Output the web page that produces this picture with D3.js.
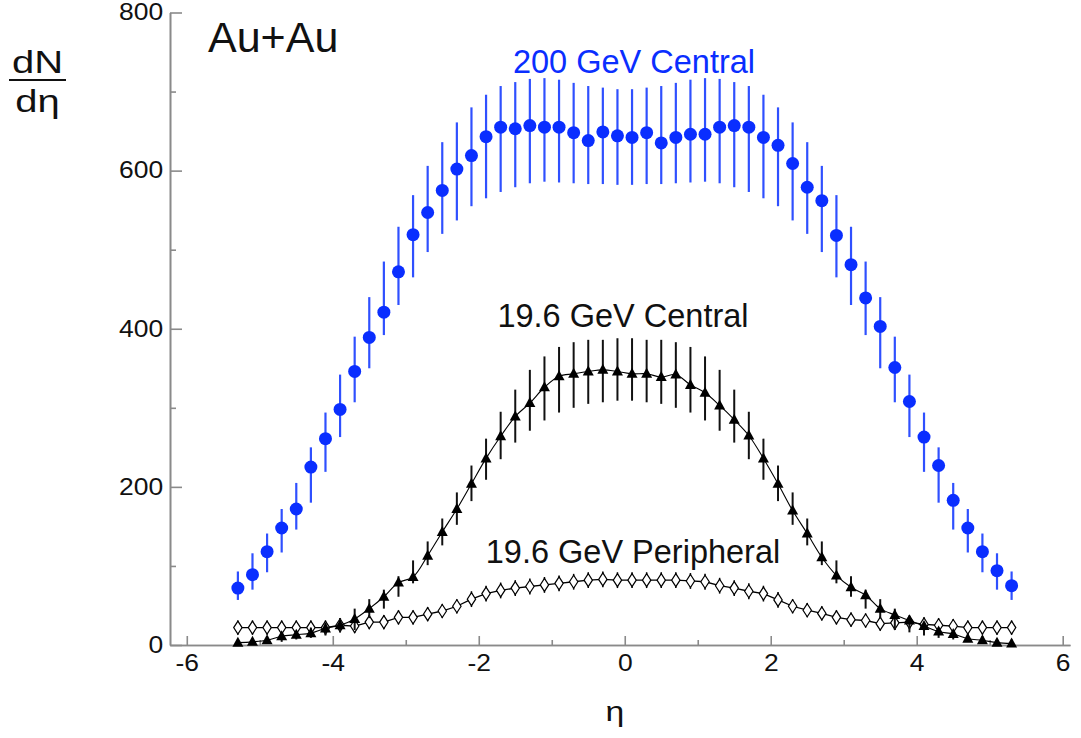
<!DOCTYPE html>
<html lang="en">
<head>
  <meta charset="UTF-8">
  <title>dN/deta Au+Au</title>
  <style>
    body { margin: 0; background: #fff; }
    svg { display: block; font-family: "Liberation Sans", Arial, sans-serif; }
    .axis path, .axis line { stroke: #8a8a8a; stroke-width: 1.6; }
    .axis text { fill: #111; font-size: 23px; font-family: "Liberation Sans", Arial, sans-serif; }
  </style>
</head>
<body>
  <div id="chart"></div>

  <script src="https://d3js.org/d3.v7.min.js"></script>
  <script>
    // pseudorapidity bin centres
    const eta = [-5.3, -5.1, -4.9, -4.7, -4.5, -4.3, -4.1, -3.9, -3.7, -3.5, -3.3, -3.1, -2.9, -2.7,
      -2.5, -2.3, -2.1, -1.9, -1.7, -1.5, -1.3, -1.1, -0.9, -0.7, -0.5, -0.3, -0.1,
      0.1, 0.3, 0.5, 0.7, 0.9, 1.1, 1.3, 1.5, 1.7, 1.9, 2.1, 2.3, 2.5, 2.7,
      2.9, 3.1, 3.3, 3.5, 3.7, 3.9, 4.1, 4.3, 4.5, 4.7, 4.9, 5.1, 5.3];

    // 200 GeV central
    const central200 = [72, 89, 118, 148, 172, 225, 261, 298, 346, 389, 421, 472, 519, 547,
      575, 602, 619, 643, 655, 653, 657, 655, 655, 648, 638, 649, 644,
      642, 648, 635, 642, 646, 646, 655, 657, 655, 642, 632, 609, 579, 562,
      518, 481, 439, 403, 351, 308, 263, 227, 183, 148, 118, 94, 75];
    const central200Hi = [93, 116, 141, 172, 205, 250, 294, 342, 390, 440, 485, 529, 569, 606,
      636, 661, 680, 696, 707, 712, 716, 717, 715, 711, 707, 705, 703,
      703, 705, 707, 711, 715, 717, 716, 712, 707, 696, 680, 661, 636, 606,
      569, 529, 485, 440, 390, 342, 294, 250, 205, 172, 141, 116, 93];
    const central200Lo = [57, 70, 92, 117, 146, 180, 219, 263, 307, 350, 392, 430, 465, 497,
      520, 537, 555, 565, 573, 579, 584, 586, 585, 584, 583, 583, 582,
      582, 583, 583, 584, 585, 586, 584, 579, 573, 565, 555, 537, 520, 497,
      465, 430, 392, 350, 307, 263, 219, 180, 146, 117, 92, 70, 57];

    // 19.6 GeV central
    const central19 = [3, 4, 6, 11, 13, 15, 21, 25, 33, 46, 61, 79, 86, 113,
      143, 172, 204, 236, 264, 289, 306, 326, 340, 343, 346, 348, 346,
      343, 343, 339, 342, 329, 319, 303, 285, 265, 236, 204, 170, 141, 111,
      88, 73, 63, 46, 38, 31, 24, 17, 14, 8, 6, 3, 2];
    const central19Hi = [7, 8, 11, 14, 18, 22, 28, 34, 46, 58, 70, 87, 107, 131,
      160, 193, 227, 261, 295, 323, 348, 365, 377, 383, 386, 386, 388,
      388, 386, 386, 383, 377, 365, 348, 323, 295, 261, 227, 193, 160, 131,
      107, 87, 70, 58, 46, 34, 28, 22, 18, 14, 11, 8, 7];
    const central19Lo = [0, 0, 2, 4, 7, 9, 12, 16, 19, 34, 46, 61, 78, 101,
      126, 152, 182, 209, 235, 256, 271, 284, 294, 300, 305, 307, 309,
      309, 307, 305, 300, 294, 284, 271, 256, 235, 209, 182, 152, 126, 101,
      78, 61, 46, 34, 19, 16, 12, 9, 7, 4, 2, 0, 0];

    // 19.6 GeV peripheral
    const periph19 = [22, 22, 22, 22, 22, 22, 22, 25, 24, 29, 29, 35, 35, 39,
      43, 49, 58, 65, 69, 72, 74, 76, 78, 80, 82, 83, 82,
      82, 82, 82, 82, 81, 80, 75, 72, 68, 65, 57, 49, 44, 40,
      35, 32, 31, 27, 28, 29, 26, 25, 24, 22, 22, 22, 22];
    const periph19Err = [9, 9, 9, 9, 9, 9, 9, 9, 9, 9, 9, 9, 9, 9,
      9, 9, 10, 10, 10, 10, 10, 10, 10, 10, 10, 10, 10,
      10, 10, 10, 10, 10, 10, 10, 10, 10, 10, 10, 9, 9, 9,
      9, 9, 9, 9, 9, 9, 9, 9, 9, 9, 9, 9, 9];

    const yMajor = [0, 200, 400, 600, 800];
    const yMinor = [100, 300, 500, 700];
    const xMajor = [-6, -4, -2, 0, 2, 4, 6];
    const xMinor = [-5, -3, -1, 1, 3, 5];

    const width = 1081, height = 738;
    const blue = "#0a2eff", blueBar = "#2f50ff";

    const svg = d3.select("#chart").append("svg")
      .attr("width", width)
      .attr("height", height);

    const x = d3.scaleLinear().domain([-6.23, 6.1]).range([170, 1070]);
    const y = d3.scaleLinear().domain([0, 800]).range([645, 12.5]);

    // axes (ticks point inward), plain hyphen for negatives
    const fmt = d => String(d);
    const yAxis = svg.append("g").attr("class", "axis").attr("transform", "translate(170,0)")
      .call(d3.axisLeft(y).tickValues(yMajor).tickSize(-12).tickSizeOuter(0).tickPadding(6).tickFormat(fmt));
    svg.append("g").attr("class", "axis").attr("transform", "translate(170,0)")
      .call(d3.axisLeft(y).tickValues(yMinor).tickSize(-6).tickSizeOuter(0).tickFormat(""));
    const xAxis = svg.append("g").attr("class", "axis").attr("transform", "translate(0,645)")
      .call(d3.axisBottom(x).tickValues(xMajor).tickSize(-9).tickSizeOuter(0).tickPadding(10).tickFormat(fmt));
    svg.append("g").attr("class", "axis").attr("transform", "translate(0,645)")
      .call(d3.axisBottom(x).tickValues(xMinor).tickSize(-5).tickSizeOuter(0).tickFormat(""));

    // the tick labels in the original are a bit wider than plain Arial
    yAxis.selectAll("text").attr("transform", "scale(1.15,1)");
    xAxis.selectAll("text").attr("transform", "scale(1.15,1)");

    // ---- 19.6 GeV peripheral (open diamonds)
    const per = eta.map((e, i) => ({ e, v: periph19[i], err: periph19Err[i] }));
    svg.append("path")
      .datum(per)
      .attr("fill", "none")
      .attr("stroke", "#000")
      .attr("stroke-width", 1.3)
      .attr("d", d3.line().x(d => x(d.e)).y(d => y(d.v)));
    svg.selectAll(".per-bar")
      .data(per).enter().append("line")
      .attr("x1", d => x(d.e)).attr("x2", d => x(d.e))
      .attr("y1", d => y(d.v + d.err)).attr("y2", d => y(d.v - d.err))
      .attr("stroke", "#000").attr("stroke-width", 1.5);
    svg.selectAll(".per-pt")
      .data(per).enter().append("path")
      .attr("transform", d => `translate(${x(d.e)},${y(d.v)})`)
      .attr("d", "M0,-6.5L4.2,0L0,6.5L-4.2,0Z")
      .attr("fill", "#fff")
      .attr("stroke", "#000")
      .attr("stroke-width", 1.2);

    // ---- 19.6 GeV central (filled triangles)
    const c19 = eta.map((e, i) => ({ e, v: central19[i], hi: central19Hi[i], lo: central19Lo[i] }));
    svg.append("path")
      .datum(c19)
      .attr("fill", "none")
      .attr("stroke", "#000")
      .attr("stroke-width", 1.1)
      .attr("d", d3.line().curve(d3.curveCatmullRom).x(d => x(d.e)).y(d => y(d.v)));
    svg.selectAll(".c19-bar")
      .data(c19).enter().append("line")
      .attr("x1", d => x(d.e)).attr("x2", d => x(d.e))
      .attr("y1", d => y(d.hi)).attr("y2", d => y(d.lo))
      .attr("stroke", "#111").attr("stroke-width", 2);
    svg.selectAll(".c19-pt")
      .data(c19).enter().append("path")
      .attr("transform", d => `translate(${x(d.e)},${y(d.v)})`)
      .attr("d", "M0,-6L5.5,4L-5.5,4Z")
      .attr("fill", "#000");

    // ---- 200 GeV central (blue circles)
    const c200 = eta.map((e, i) => ({ e, v: central200[i], hi: central200Hi[i], lo: central200Lo[i] }));
    svg.selectAll(".c200-bar")
      .data(c200).enter().append("line")
      .attr("x1", d => x(d.e)).attr("x2", d => x(d.e))
      .attr("y1", d => y(d.hi)).attr("y2", d => y(d.lo))
      .attr("stroke", blueBar).attr("stroke-width", 2.2);
    svg.selectAll(".c200-pt")
      .data(c200).enter().append("circle")
      .attr("cx", d => x(d.e))
      .attr("cy", d => y(d.v))
      .attr("r", 6.5)
      .attr("fill", blue);

    // ---- labels
    svg.append("text").attr("x", 208).attr("y", 52)
      .attr("font-size", 43).attr("fill", "#111").text("Au+Au");
    svg.append("text").attr("x", 634).attr("y", 73).attr("text-anchor", "middle")
      .attr("font-size", 32.5).attr("fill", blue).text("200 GeV Central");
    svg.append("text").attr("x", 623).attr("y", 327).attr("text-anchor", "middle")
      .attr("font-size", 32.5).attr("fill", "#111").text("19.6 GeV Central");
    svg.append("text").attr("x", 633).attr("y", 563).attr("text-anchor", "middle")
      .attr("font-size", 32.5).attr("fill", "#111").text("19.6 GeV Peripheral");

    // y title as a fraction dN / dη
    const yTitle = svg.append("g").attr("transform", "translate(37.5,0) scale(1.25,1)");
    yTitle.append("text").attr("x", 0).attr("y", 73).attr("text-anchor", "middle")
      .attr("font-size", 32).attr("fill", "#111").text("dN");
    yTitle.append("text").attr("x", 0).attr("y", 112).attr("text-anchor", "middle")
      .attr("font-size", 32).attr("fill", "#111").text("dη");
    svg.append("line").attr("x1", 9).attr("x2", 66).attr("y1", 80).attr("y2", 80)
      .attr("stroke", "#111").attr("stroke-width", 2);

    // x title
    svg.append("g").attr("transform", "translate(615,721) scale(1.25,1)")
      .append("text").attr("text-anchor", "middle")
      .attr("font-size", 27).attr("fill", "#111").text("η");
  </script>
</body>
</html>
